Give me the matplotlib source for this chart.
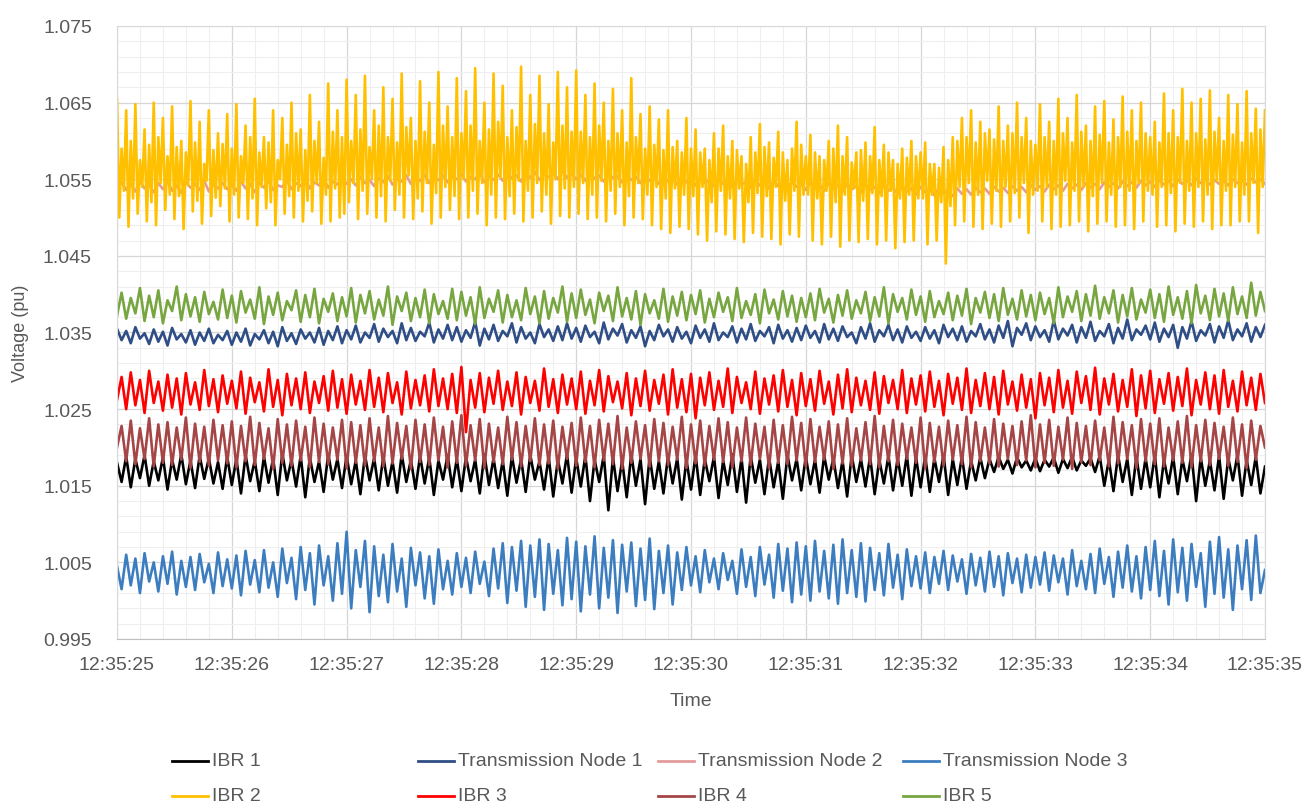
import numpy as np
import matplotlib
matplotlib.use('Agg')
import matplotlib.pyplot as plt
from matplotlib.ticker import MultipleLocator, AutoMinorLocator, FixedLocator, FuncFormatter
from matplotlib.lines import Line2D

plt.rcParams['font.family'] = ['Liberation Sans', 'DejaVu Sans']

# voltages, in units of 1e-4 pu above 1.0 pu
# one row per second, 12:35:25 ... 12:35:35
ibr1 = [
    180, 155, 188, 148, 185, 160, 190, 150, 182, 157, 187, 145, 184, 158, 191, 152, 183, 147, 189, 159, 186, 153, 181, 146, 188,
    151, 185, 140, 190, 156, 183, 143, 188, 154, 186, 138, 192, 157, 184, 149, 189, 135, 187, 155, 182, 142, 191, 158, 185, 147,
    189, 152, 183, 139, 190, 157, 186, 144, 188, 150, 182, 141, 191, 155, 184, 146, 189, 153, 187, 138, 183, 158, 190, 148, 185,
    143, 188, 156, 184, 140, 191, 151, 186, 147, 183, 137, 189, 154, 185, 142, 190, 158, 182, 145, 188, 136, 184, 153, 191, 141,
    186, 149, 189, 130, 184, 155, 190, 118, 187, 143, 183, 135, 191, 150, 185, 126, 188, 146, 182, 140, 189, 153, 186, 132, 184,
    145, 190, 138, 185, 156, 188, 134, 183, 151, 191, 142, 186, 128, 189, 154, 184, 139, 187, 148, 182, 133, 190, 157, 185, 144,
    188, 152, 184, 141, 189, 158, 186, 147, 183, 136, 190, 155, 185, 149, 188, 139, 184, 153, 189, 144, 186, 150, 190, 137, 187,
    148, 189, 142, 186, 155, 190, 138, 185, 151, 188, 146, 183, 157, 187, 160, 185, 168, 188, 172, 184, 166, 187, 174, 183, 170,
    186, 169, 184, 175, 187, 167, 185, 173, 188, 170, 183, 176, 186, 168, 189, 150, 184, 143, 190, 155, 185, 138, 188, 146, 186,
    148, 190, 135, 184, 153, 188, 139, 185, 156, 191, 130, 187, 150, 183, 144, 189, 133, 186, 157, 190, 137, 184, 151, 188, 140,
    175,
]
tn1 = [
    355, 340, 352, 336, 357, 342, 349, 335, 354, 338, 351, 333, 356, 341, 348, 337, 353, 334, 350, 339, 355, 336, 347, 340, 352,
    334, 350, 338, 355, 333, 348, 341, 353, 336, 351, 332, 357, 339, 349, 335, 354, 342, 350, 337, 356, 334, 352, 340, 358, 336,
    353, 341, 359, 337, 350, 343, 361, 338, 355, 344, 352, 336, 362, 340, 356, 339, 351, 345, 363, 337, 354, 342, 360, 340, 357,
    338, 353, 343, 364, 333, 355, 341, 360, 339, 352, 345, 362, 337, 357, 342, 350, 336, 361, 344, 354, 339, 358, 340, 362, 342,
    356, 338, 359, 344, 351, 336, 363, 341, 355, 346, 361, 337, 353, 343, 358, 332, 352, 340, 360, 345, 354, 338, 357, 342, 351,
    336, 359, 343, 354, 338, 362, 340, 350, 344, 358, 337, 355, 341, 361, 339, 352, 345, 357, 336, 360, 342, 353, 338, 356, 340,
    359, 343, 352, 337, 361, 341, 355, 339, 358, 344, 350, 336, 357, 342, 362, 338, 353, 345, 360, 340, 354, 337, 358, 343, 351,
    339, 357, 342, 353, 336, 360, 344, 355, 340, 358, 338, 352, 345, 361, 341, 354, 337, 359, 343, 365, 332, 356, 347, 362, 340,
    358, 344, 353, 338, 366, 341, 355, 346, 360, 337, 357, 343, 364, 339, 352, 345, 361, 336, 356, 342, 367, 340, 354, 347, 359,
    341, 363, 338, 355, 344, 360, 330, 357, 342, 365, 339, 353, 346, 361, 337, 358, 343, 366, 340, 354, 345, 362, 338, 357, 344,
    360,
]
tn2 = [
    540, 546, 536, 544, 534, 547, 538, 543, 533, 545, 537, 548, 535, 542, 532, 546, 539, 544, 536, 548, 534, 543, 538, 545, 537,
    543, 535, 547, 538, 544, 533, 546, 539, 548, 536, 542, 540, 549, 537, 545, 541, 550, 538, 546, 542, 551, 539, 547, 543, 552,
    544, 550, 542, 553, 545, 549, 541, 552, 546, 554, 543, 550, 547, 555, 544, 551, 548, 556, 545, 552, 549, 555, 546, 553, 550,
    557, 547, 553, 550, 558, 546, 554, 549, 556, 548, 559, 551, 555, 547, 557, 552, 560, 549, 556, 553, 558, 550, 561, 552, 557,
    550, 556, 548, 559, 551, 555, 547, 557, 552, 554, 546, 556, 549, 553, 545, 555, 548, 552, 544, 554, 547, 551, 543, 553, 546,
    550, 542, 552, 545, 549, 541, 551, 544, 548, 540, 550, 543, 547, 539, 549, 542, 546, 538, 548, 541, 545, 537, 547, 540, 544,
    536, 546, 539, 543, 535, 545, 538, 542, 534, 544, 537, 541, 533, 543, 536, 540, 532, 542, 535, 539, 531, 541, 534, 538, 530,
    540, 533, 537, 529, 539, 532, 536, 528, 538, 531, 537, 530, 539, 533, 538, 531, 540, 534, 539, 532, 541, 535, 540, 533, 542,
    536, 541, 534, 543, 537, 542, 535, 544, 538, 543, 536, 545, 539, 544, 537, 546, 540, 545, 538, 547, 541, 546, 539, 548, 542,
    547, 540, 549, 543, 548, 541, 550, 544, 549, 542, 551, 545, 550, 543, 549, 544, 548, 542, 550, 545, 549, 543, 551, 546, 550,
    544,
]
tn3 = [
    45, 15, 60, 20, 55, 10, 62, 25, 50, 12, 58, 22, 64, 8, 52, 18, 57, 14, 61, 24, 48, 10, 63, 19, 54,
    16, 59, 7, 65, 21, 53, 11, 66, 17, 50, 5, 68, 23, 56, 2, 70, 14, 62, -5, 72, 20, 58, 0, 75, 9,
    90, -10, 66, 18, 78, -15, 71, 6, 60, -2, 74, 12, 55, -8, 69, 20, 63, 3, 58, -4, 67, 15, 52, 8, 62,
    18, 56, 10, 64, 22, 51, 6, 68, 16, 75, -3, 70, 13, 78, -8, 72, 5, 80, -12, 74, 9, 66, -6, 82, 2,
    77, -14, 71, 8, 84, -10, 69, 4, 79, -16, 73, 12, 76, -7, 68, 1, 81, -11, 65, 10, 72, -5, 63, 14, 70,
    20, 58, 11, 66, 24, 55, 15, 62, 27, 52, 9, 67, 18, 57, 6, 70, 21, 60, 4, 74, 13, 68, -2, 76, 8,
    71, 0, 78, 12, 65, 3, 73, -4, 80, 10, 66, 5, 75, -1, 69, 14, 62, 7, 74, 17, 60, 2, 67, 19, 58,
    16, 63, 10, 57, 22, 65, 14, 59, 25, 54, 9, 61, 20, 56, 12, 64, 18, 58, 7, 62, 23, 55, 11, 60, 17,
    57, 21, 63, 13, 59, 24, 55, 8, 66, 19, 52, 15, 61, 10, 68, 22, 57, 5, 64, 17, 72, 12, 58, 3, 70,
    14, 78, 6, 65, -5, 80, 11, 69, 0, 74, 18, 62, -8, 77, 9, 83, 4, 67, -12, 72, 15, 79, 1, 85, 10,
    40,
]
# IBR 2 is sampled twice as densely, it fills the band in the original
ibr2 = [
    655, 500, 590, 535, 640, 488, 600, 525, 648, 505, 575, 540, 615, 495, 595, 520, 650, 490, 605, 545, 630, 510, 580, 530, 645,
    498, 592, 528, 600, 485, 585, 542, 652, 508, 598, 522, 625, 492, 570, 548, 640, 502, 588, 526, 610, 515, 596, 538, 635, 495,
    590, 530, 648, 500, 580, 545, 620, 498, 605, 525, 655, 490, 585, 540, 605, 512, 598, 520, 640, 490, 575, 550, 630, 505, 595,
    528, 650, 500, 610, 535, 615, 495, 588, 522, 660, 508, 600, 545, 625, 492, 578, 530, 675, 495, 612, 538, 640, 500, 605, 505,
    680, 520, 600, 545, 660, 498, 615, 535, 685, 505, 592, 550, 640, 500, 620, 528, 670, 495, 605, 548, 655, 510, 598, 530, 688,
    500, 618, 555, 630, 498, 600, 525, 678, 508, 612, 545, 650, 492, 595, 532, 690, 500, 620, 540, 645, 510, 605, 528, 682, 498,
    610, 550, 665, 500, 620, 535, 695, 505, 600, 545, 650, 490, 615, 530, 688, 500, 625, 552, 672, 498, 605, 528, 640, 505, 618,
    548, 697, 495, 600, 535, 660, 500, 622, 545, 685, 508, 610, 530, 648, 492, 598, 550, 690, 502, 620, 538, 670, 500, 612, 540,
    692, 505, 612, 545, 660, 498, 605, 530, 675, 500, 620, 548, 650, 495, 600, 535, 668, 505, 610, 540, 640, 490, 598, 528, 682,
    500, 605, 545, 635, 498, 590, 530, 645, 490, 595, 540, 628, 485, 588, 525, 640, 480, 592, 538, 600, 488, 585, 530, 630, 485,
    590, 528, 615, 478, 585, 540, 590, 470, 575, 520, 610, 482, 590, 535, 620, 478, 580, 525, 600, 472, 588, 538, 580, 468, 570,
    520, 605, 480, 585, 532, 622, 475, 592, 528, 598, 472, 578, 540, 612, 465, 585, 522, 575, 478, 590, 535, 625, 475, 595, 530,
    580, 530, 608, 470, 585, 525, 580, 465, 575, 535, 600, 475, 590, 520, 620, 462, 580, 530, 605, 470, 572, 538, 585, 468, 588,
    522, 598, 472, 580, 532, 618, 465, 575, 528, 595, 470, 585, 535, 575, 460, 570, 525, 590, 468, 578, 530, 600, 470, 580, 525,
    585, 525, 598, 465, 570, 530, 570, 470, 565, 520, 592, 440, 575, 515, 605, 490, 600, 540, 630, 495, 605, 545, 640, 488, 598,
    530, 625, 485, 610, 548, 615, 492, 602, 535, 645, 488, 600, 540, 620, 495, 610, 532, 650, 500, 605, 545, 630, 480, 600, 530,
    595, 535, 648, 495, 605, 540, 625, 485, 600, 530, 655, 488, 610, 548, 630, 490, 598, 535, 660, 495, 612, 540, 620, 482, 600,
    528, 645, 492, 608, 545, 652, 495, 598, 530, 628, 488, 605, 540, 658, 490, 612, 535, 640, 485, 600, 545, 650, 495, 610, 535,
    605, 530, 625, 488, 598, 540, 662, 490, 610, 532, 640, 482, 605, 545, 668, 492, 600, 535, 650, 488, 610, 540, 655, 495, 602,
    530, 666, 485, 612, 548, 630, 490, 600, 535, 660, 490, 608, 540, 648, 495, 598, 530, 665, 495, 610, 545, 642, 480, 615, 540,
    640,
]
ibr3 = [
    262, 292, 250, 298, 255, 288, 245, 300, 258, 286, 248, 295, 252, 290, 243, 297, 256, 285, 249, 301, 254, 289, 246, 294, 257,
    287, 251, 299, 244, 291, 259, 285, 247, 302, 253, 288, 242, 296, 255, 290, 250, 298, 245, 286, 258, 293, 248, 300, 252, 289,
    244, 295, 256, 287, 249, 301, 253, 291, 246, 297, 258, 285, 243, 299, 251, 288, 255, 294, 247, 302, 254, 290, 250, 296, 245,
    305, 220, 288, 252, 297, 246, 291, 257, 300, 249, 286, 254, 298, 243, 292, 258, 287, 248, 303, 253, 289, 245, 295, 256, 290,
    250, 299, 244, 287, 255, 301, 247, 293, 259, 286, 251, 297, 242, 290, 254, 300, 248, 288, 257, 295, 243, 302, 252, 289, 246,
    296, 238, 291, 255, 298, 249, 287, 253, 303, 245, 292, 258, 285, 250, 299, 244, 290, 256, 294, 247, 301, 253, 288, 242, 297,
    254, 289, 248, 300, 257, 286, 243, 295, 251, 302, 246, 291, 255, 287, 249, 298, 244, 293, 258, 288, 250, 301, 245, 290, 256,
    294, 247, 299, 253, 287, 242, 296, 257, 291, 249, 303, 245, 288, 254, 297, 250, 292, 243, 300, 256, 286, 248, 295, 252, 289,
    238, 297, 255, 291, 246, 301, 252, 287, 244, 299, 258, 293, 249, 304, 243, 290, 256, 296, 247, 288, 253, 302, 241, 294, 251,
    300, 245, 289, 257, 297, 248, 292, 254, 303, 242, 288, 256, 298, 250, 294, 244, 301, 253, 287, 247, 299, 255, 291, 249, 296,
    258,
]
ibr4 = [
    200, 228, 182, 235, 178, 225, 185, 238, 175, 230, 180, 233, 177, 226, 184, 239, 173, 231, 181, 227, 176, 236, 183, 229, 179,
    234, 174, 228, 182, 240, 177, 232, 185, 225, 172, 237, 180, 230, 176, 235, 183, 227, 174, 239, 181, 231, 178, 226, 184, 236,
    173, 233, 180, 229, 176, 238, 182, 226, 175, 241, 179, 232, 185, 228, 172, 236, 181, 230, 177, 239, 183, 227, 174, 234, 180,
    242, 176, 229, 183, 237, 173, 231, 181, 226, 178, 240, 184, 233, 175, 228, 182, 238, 177, 230, 179, 235, 172, 227, 185, 232,
    176, 239, 181, 228, 174, 236, 183, 231, 178, 241, 172, 226, 180, 234, 185, 229, 175, 237, 182, 232, 177, 227, 184, 240, 173,
    230, 179, 235, 176, 228, 184, 238, 181, 233, 174, 226, 182, 239, 177, 231, 185, 227, 173, 236, 180, 229, 178, 240, 183, 232,
    175, 237, 181, 227, 184, 234, 172, 230, 179, 238, 176, 225, 183, 233, 178, 241, 174, 228, 182, 236, 177, 231, 185, 226, 180,
    239, 173, 232, 181, 227, 176, 235, 184, 229, 178, 240, 174, 233, 182, 226, 179, 237, 175, 231, 185, 228, 177, 234, 183, 242,
    174, 230, 180, 236, 176, 227, 184, 239, 172, 232, 181, 228, 177, 235, 183, 226, 175, 240, 179, 233, 185, 229, 173, 237, 182,
    231, 178, 238, 175, 226, 183, 234, 180, 241, 174, 229, 182, 236, 177, 232, 185, 227, 176, 239, 181, 230, 173, 235, 184, 228,
    200,
]
ibr5 = [
    372, 402, 368, 395, 375, 408, 365, 398, 370, 405, 362, 392, 378, 410, 366, 400, 371, 396, 364, 403, 374, 390, 367, 406, 369,
    398, 363, 404, 376, 393, 368, 409, 361, 397, 373, 402, 366, 391, 379, 405, 364, 399, 370, 407, 362, 394, 377, 401, 365, 396,
    371, 408, 363, 399, 375, 404, 367, 393, 372, 410, 360, 397, 378, 402, 365, 395, 370, 406, 362, 400, 374, 391, 368, 407, 366,
    403, 372, 396, 361, 409, 369, 394, 377, 405, 363, 399, 370, 392, 366, 408, 374, 397, 362, 404, 368, 395, 376, 410, 364, 401,
    369, 406, 373, 393, 362, 402, 378, 398, 365, 409, 371, 395, 367, 404, 360, 400, 375, 392, 368, 407, 364, 397, 372, 403, 366,
    399, 374, 405, 363, 394, 370, 402, 377, 396, 365, 408, 369, 391, 373, 400, 362, 406, 375, 393, 367, 404, 371, 398, 364, 395,
    370, 401, 366, 407, 376, 394, 363, 399, 372, 405, 368, 392, 375, 403, 365, 396, 371, 409, 362, 400, 377, 395, 367, 406, 373,
    397, 364, 404, 370, 391, 374, 402, 366, 398, 372, 407, 361, 395, 376, 403, 369, 400, 365, 408, 373, 394, 367, 405, 371, 399,
    366, 402, 374, 395, 362, 409, 370, 397, 377, 404, 365, 400, 372, 411, 368, 396, 375, 405, 363, 399, 371, 408, 367, 393, 376,
    406, 369, 400, 364, 410, 373, 396, 368, 404, 362, 412, 375, 398, 366, 407, 371, 401, 365, 409, 374, 397, 369, 415, 372, 403,
    378,
]

names = ['IBR 1', 'Transmission Node 1', 'Transmission Node 2', 'Transmission Node 3',
         'IBR 2', 'IBR 3', 'IBR 4', 'IBR 5']
series = [ibr1, tn1, tn2, tn3, ibr2, ibr3, ibr4, ibr5]
colors = ['#000000', '#2F4E86', '#E39C9C', '#3C7DC0',
          '#FFC000', '#FF0000', '#A54546', '#77A640']
time_labels = ['12:35:25', '12:35:26', '12:35:27', '12:35:28', '12:35:29', '12:35:30',
               '12:35:31', '12:35:32', '12:35:33', '12:35:34', '12:35:35']
y_ticks = [0.995, 1.005, 1.015, 1.025, 1.035, 1.045, 1.055, 1.065, 1.075]

grey = '#595959'

fig = plt.figure(figsize=(13.06, 8.12), dpi=100)
ax = fig.add_axes([117 / 1306, 1 - 640 / 812, (1265 - 117) / 1306, (640 - 27) / 812])

for name, vals, col in zip(names, series, colors):
    v = 1 + np.array(vals) / 1e4
    t = np.linspace(0, len(time_labels) - 1, len(v))
    ax.plot(t, v, color=col, lw=1.9, label=name)

ax.set_xlim(0, len(time_labels) - 1)
ax.set_ylim(y_ticks[0], y_ticks[-1])
ax.xaxis.set_major_locator(MultipleLocator(1))
ax.xaxis.set_minor_locator(AutoMinorLocator(5))
ax.yaxis.set_major_locator(FixedLocator(y_ticks))
ax.yaxis.set_minor_locator(FixedLocator(np.linspace(y_ticks[0], y_ticks[-1], 41)))
ax.xaxis.set_major_formatter(FuncFormatter(
    lambda x, p: time_labels[int(round(x))] if 0 <= round(x) < len(time_labels) else ''))
ax.yaxis.set_major_formatter(FuncFormatter(lambda y, p: '%.3f' % y))

ax.grid(which='major', color='#D6D6D6', lw=0.9)
ax.grid(which='minor', color='#EFEFEF', lw=0.8)
ax.set_axisbelow(True)
for s in ax.spines.values():
    s.set_color('#D9D9D9')
ax.spines['bottom'].set_color('#BFBFBF')

ax.tick_params(which='both', length=0)
ax.tick_params(axis='x', labelsize=14, labelcolor=grey, pad=12)
ax.tick_params(axis='y', labelsize=14, labelcolor=grey, pad=18)

ax.set_xlabel('Time', fontsize=14, color=grey, labelpad=14)
ax.set_ylabel('Voltage (pu)', fontsize=13, color=grey, labelpad=10)

# legend laid out like the Excel one: two rows of four equal slots
col_x = [172, 418, 658, 903]
row_y = [762, 797]
for i, (name, col) in enumerate(zip(names, colors)):
    r = i // 4
    c = i % 4
    x0 = col_x[c] / 1306
    x1 = (col_x[c] + 36) / 1306
    y = 1 - row_y[r] / 812
    fig.add_artist(Line2D([x0, x1], [y, y], color=col, lw=2, transform=fig.transFigure))
    fig.text((col_x[c] + 40) / 1306, y, name, fontsize=14, color=grey, va='center', ha='left')

fig.savefig('out.png', dpi=100, facecolor='white')
